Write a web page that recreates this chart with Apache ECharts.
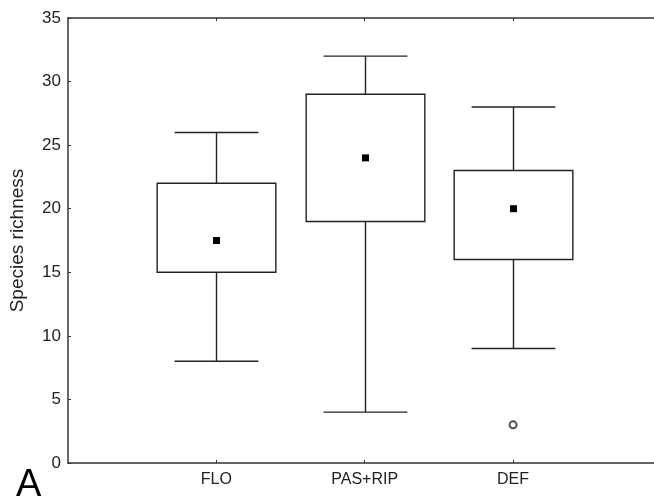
<!DOCTYPE html>
<html>
<head>
<meta charset="utf-8">
<script src="https://cdn.jsdelivr.net/npm/echarts@6/dist/echarts.min.js"></script>
<style>
html, body { margin: 0; padding: 0; background: #fff; }
#chart { width: 654px; height: 499px; }
</style>
</head>
<body>
<div id="chart"></div>
<script>
// groups along the x axis (positions 1, 2, 3)
var groups = ['FLO', 'PAS+RIP', 'DEF'];
var groupPos = [1, 2, 3];
var whiskerLow = [8, 4, 9];
var boxLow = [15, 19, 16];
var boxHigh = [22, 29, 23];
var whiskerHigh = [26, 32, 28];
var centers = [17.5, 24, 20];
// outliers: [group index, value]
var outliers = [[2, 3]];
var yTicks = [0, 5, 10, 15, 20, 25, 30, 35];

var chart = echarts.init(document.getElementById('chart'))

var boxData = groups.map(function (g, i) {
    return [groupPos[i], whiskerLow[i], boxLow[i], boxHigh[i], whiskerHigh[i], centers[i]]
})
var outlierData = outliers.map(function (o) {
    return [groupPos[o[0]], o[1]]
})

var lineStyle = { stroke: '#222', lineWidth: 1.4 }

function renderBox(params, api) {
    var x = api.value(0)
    var pLow = api.coord([x, api.value(1)])
    var pQ1 = api.coord([x, api.value(2)])
    var pQ3 = api.coord([x, api.value(3)])
    var pHigh = api.coord([x, api.value(4)])
    var pMid = api.coord([x, api.value(5)])
    var bw = api.size([0.8, 0])[0]
    var cw = api.size([0.565, 0])[0]
    var cx = Math.round(pMid[0]) + 0.5
    function ln(x1, y1, x2, y2) {
        return { type: 'line', shape: { x1: x1, y1: y1, x2: x2, y2: y2 }, style: lineStyle }
    }
    return {
        type: 'group',
        children: [
            ln(cx, pHigh[1], cx, pQ3[1]),
            ln(cx - cw / 2, pHigh[1], cx + cw / 2, pHigh[1]),
            ln(cx, pQ1[1], cx, pLow[1]),
            ln(cx - cw / 2, pLow[1], cx + cw / 2, pLow[1]),
            {
                type: 'rect',
                shape: { x: cx - bw / 2, y: pQ3[1], width: bw, height: pQ1[1] - pQ3[1] },
                style: { fill: '#fff', stroke: '#222', lineWidth: 1.4 }
            },
            {
                type: 'rect',
                shape: { x: cx - 3.5, y: pMid[1] - 3.5, width: 7, height: 7 },
                style: { fill: '#000' }
            }
        ]
    }
}

var option = {
    backgroundColor: '#fff',
    animation: false,
    grid: {
        left: 68,
        right: 0,
        top: 18,
        bottom: 36
    },
    xAxis: [
        {
            type: 'value',
            position: 'bottom',
            min: 0,
            max: 3.95,
            interval: 1,
            splitLine: { show: false },
            axisLine: { lineStyle: { color: '#333', width: 1.5 } },
            axisTick: { inside: true, length: 3, customValues: groupPos, lineStyle: { color: '#333' } },
            axisLabel: {
                color: '#222',
                fontFamily: 'Liberation Sans',
                fontSize: 16,
                margin: 9,
                customValues: groupPos,
                formatter: function (v) {
                    return groups[groupPos.indexOf(v)] || ''
                }
            }
        },
        {
            type: 'value',
            position: 'top',
            min: 0,
            max: 3.95,
            interval: 1,
            splitLine: { show: false },
            axisLine: { onZero: false, lineStyle: { color: '#333', width: 1.5 } },
            axisTick: { inside: true, length: 3, customValues: groupPos, lineStyle: { color: '#333' } },
            axisLabel: { show: false }
        }
    ],
    yAxis: {
        type: 'value',
        min: yTicks[0],
        max: yTicks[yTicks.length - 1],
        interval: 5,
        name: 'Species richness',
        nameLocation: 'middle',
        nameGap: 41,
        nameTextStyle: { color: '#222', fontFamily: 'Liberation Sans', fontSize: 19 },
        splitLine: { show: false },
        axisLine: { show: true, lineStyle: { color: '#333', width: 1.5 } },
        axisTick: { show: true, inside: true, length: 3, lineStyle: { color: '#333' } },
        axisLabel: { color: '#222', fontFamily: 'Liberation Sans', fontSize: 17, margin: 7 }
    },
    series: [
        {
            type: 'custom',
            renderItem: renderBox,
            encode: { x: 0, y: [1, 2, 3, 4, 5] },
            data: boxData
        },
        {
            type: 'scatter',
            symbol: 'emptyCircle',
            symbolSize: 7,
            itemStyle: { color: '#222', borderColor: '#222', borderWidth: 1.3 },
            data: outlierData
        }
    ],
    graphic: [
        {
            type: 'text',
            left: 16,
            top: 467,
            style: { text: 'A', fontFamily: 'Liberation Sans', fontSize: 38, fill: '#000' }
        }
    ]
}
chart.setOption(option, true)
</script>
</body>
</html>
